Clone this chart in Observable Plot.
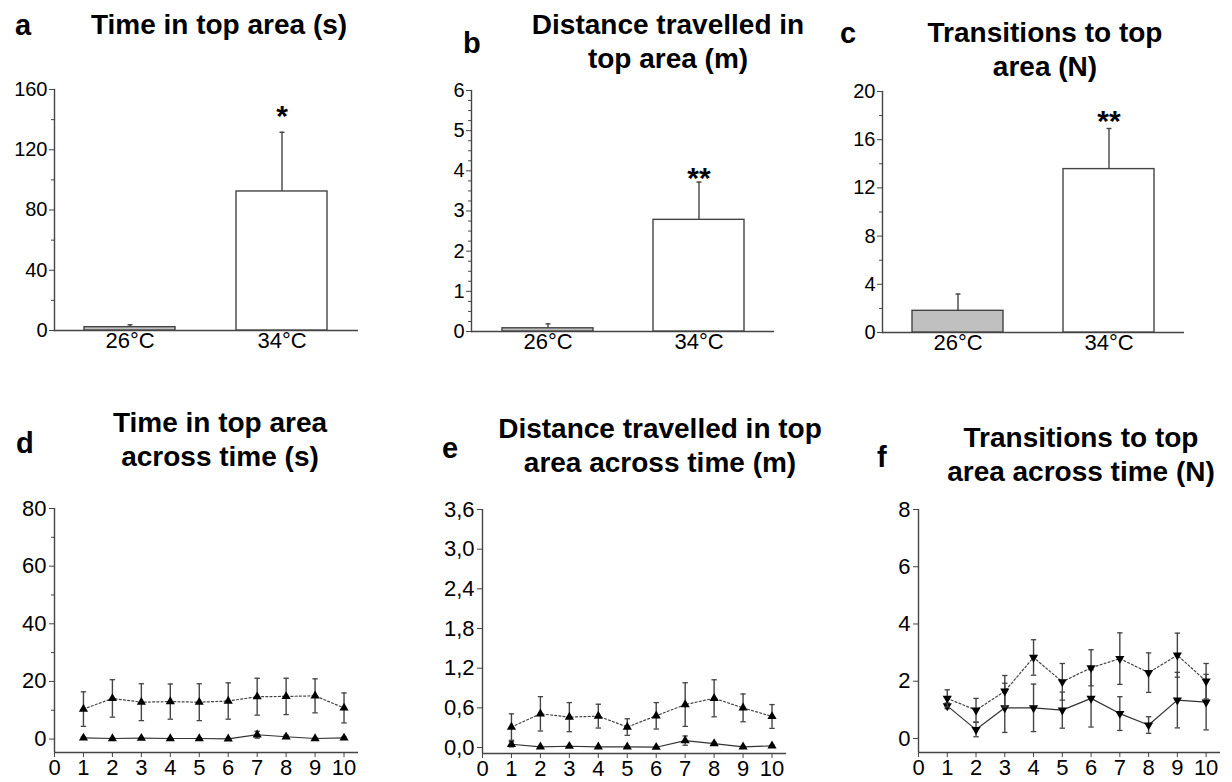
<!DOCTYPE html>
<html><head><meta charset="utf-8">
<script src="https://cdn.jsdelivr.net/npm/d3@7"></script>
<script src="https://cdn.jsdelivr.net/npm/@observablehq/plot@0.6"></script>
<style>
body{margin:0;background:#fff;}
#fig{position:relative;width:1232px;height:782px;font-family:"Liberation Sans",Arial,sans-serif;color:#000;overflow:hidden;background:#fff}
.panel{position:absolute}
.title{position:absolute;width:440px;text-align:center;font-weight:bold;font-size:28px;line-height:34px;white-space:nowrap}
.letter{position:absolute;font-weight:bold;font-size:29px;line-height:34px}
</style></head><body><div id="fig"></div>
<script>
// ---------- data ----------
const temperatures = ["26°C", "34°C"];
const timeTopMean = [2.2, 92.3];
const timeTopSE = [1.6, 39.3];
const distTopMean = [0.08, 2.78];
const distTopSE = [0.11, 0.94];
const transTopMean = [1.8, 13.56];
const transTopSE = [1.39, 3.37];
const significance = ["", "*"];
const significanceB = ["", "**"];
const significanceC = ["", "**"];

const minutes = [1, 2, 3, 4, 5, 6, 7, 8, 9, 10];
const time26 = [0.4, 0.2, 0.3, 0.2, 0.2, 0.1, 1.5, 0.8, 0.2, 0.4];
const time26SE = [0.3, 0.2, 0.3, 0.2, 0.2, 0.1, 1.2, 0.5, 0.2, 0.3];
const time34 = [10.4, 14.1, 12.8, 13.0, 12.8, 13.2, 14.7, 14.8, 15.0, 10.8];
const time34SE = [6.0, 6.5, 6.4, 6.1, 6.4, 6.3, 6.4, 6.3, 5.9, 5.2];
const dist26 = [0.05, 0.01, 0.02, 0.01, 0.01, 0.005, 0.105, 0.06, 0.01, 0.025];
const dist26SE = [0.04, 0.01, 0.01, 0.01, 0.01, 0.005, 0.07, 0.02, 0.01, 0.01];
const dist34 = [0.31, 0.51, 0.46, 0.475, 0.31, 0.48, 0.65, 0.745, 0.6, 0.47];
const dist34SE = [0.2, 0.26, 0.22, 0.18, 0.125, 0.2, 0.33, 0.28, 0.21, 0.18];
const trans26 = [1.14, 0.31, 1.07, 1.07, 0.99, 1.40, 0.87, 0.47, 1.34, 1.27];
const trans26SE = [0.1, 0.25, 0.86, 0.83, 0.63, 1.0, 0.59, 0.29, 0.97, 0.97];
const trans34 = [1.40, 0.99, 1.65, 2.83, 1.98, 2.47, 2.79, 2.30, 2.91, 2.0];
const trans34SE = [0.3, 0.41, 0.55, 0.62, 0.64, 0.63, 0.9, 0.69, 0.77, 0.62];

// tick labels
const ticksA = [0, 40, 80, 120, 160], minorA = [20, 60, 100, 140];
const ticksB = [0, 1, 2, 3, 4, 5, 6], minorB = [0.25,0.5,0.75,1.25,1.5,1.75,2.25,2.5,2.75,3.25,3.5,3.75,4.25,4.5,4.75,5.25,5.5,5.75];
const ticksC = [0, 4, 8, 12, 16, 20], minorC = [2, 6, 10, 14, 18];
const ticksD = [0, 20, 40, 60, 80], minorD = [10, 30, 50, 70];
const ticksE = [0, 0.6, 1.2, 1.8, 2.4, 3.0, 3.6];
const ticksF = [0, 2, 4, 6, 8];
const ticksMinute = [0, 1, 2, 3, 4, 5, 6, 7, 8, 9, 10];

// ---------- styling ----------
const FONT = '"Liberation Sans", Arial, sans-serif';
const AXIS = "#444";
const barFill = {"26°C": "#c0c0c0", "34°C": "#ffffff"};
const capSymbol = {draw(ctx, size) { const r = Math.sqrt(size / Math.PI); ctx.moveTo(-r, 0); ctx.lineTo(r, 0); }};
const fig = document.getElementById("fig");

function addText(cls, lines, x, baseline, center) {
  const div = document.createElement("div");
  div.className = cls;
  div.innerHTML = lines.join("<br>");
  const off = cls === "title" ? 26.7 : 27.0;
  div.style.top = (baseline - off) + "px";
  div.style.left = (center ? x - 220 : x) + "px";
  fig.appendChild(div);
}

function place(svg, left, top) {
  const wrap = document.createElement("div");
  wrap.className = "panel";
  wrap.style.left = left + "px";
  wrap.style.top = top + "px";
  wrap.appendChild(svg);
  fig.appendChild(wrap);
}

function barPanel(cfg) {
  const data = temperatures.map((t, i) => ({t, mean: cfg.mean[i], se: cfg.se[i], sig: cfg.sig[i]}));
  const svg = Plot.plot({
    width: cfg.width, height: cfg.height,
    marginLeft: cfg.m[0], marginRight: cfg.m[1], marginTop: cfg.m[2], marginBottom: cfg.m[3],
    style: {fontFamily: FONT, fontSize: "20px", background: "transparent", color: "#000", overflow: "visible"},
    x: {domain: temperatures, paddingInner: 0.4, paddingOuter: 0.2, label: null},
    y: {domain: cfg.yDomain, label: null},
    color: {type: "identity"},
    marks: [
      Plot.frame({anchor: "left", stroke: AXIS, strokeWidth: 1.4}),
      Plot.ruleY([cfg.yDomain[0]], {stroke: AXIS, strokeWidth: 1.4}),
      Plot.axisY(cfg.ticks, {tickSize: 5, tickPadding: 2, fontSize: 20, stroke: AXIS, fill: "#000", label: null}),
      Plot.axisY(cfg.minor, {tickSize: 3, tickFormat: () => "", stroke: AXIS, label: null}),
      Plot.axisX({tickSize: 0, tickPadding: 2, fontSize: 22, fill: "#000", label: null}),
      Plot.ruleX(data, {x: "t", y1: "mean", y2: d => d.mean + d.se, stroke: AXIS, strokeWidth: 1.4}),
      Plot.dot(data, {x: "t", y: d => d.mean + d.se, symbol: capSymbol, r: 2.5, stroke: AXIS, strokeWidth: 1.4}),
      Plot.barY(data, {x: "t", y: "mean", fill: d => barFill[d.t], stroke: AXIS, strokeWidth: 1.4}),
      Plot.text(data, {x: "t", y: () => cfg.sigY, text: "sig", fontSize: 30, fontWeight: "bold", dy: 8, fill: "#000"})
    ]
  });
  place(svg, cfg.left, cfg.top);
}

function linePanel(cfg) {
  const mk = (vals, ses) => minutes.map((m, i) => ({m, v: vals[i], se: ses[i]}));
  const series = [
    {data: mk(cfg.s26, cfg.s26SE), dash: null},
    {data: mk(cfg.s34, cfg.s34SE), dash: "2,2.2"}
  ];
  const marks = [
    Plot.ruleX([0], {stroke: AXIS, strokeWidth: 1.4}),
    Plot.ruleY([cfg.yDomain[0]], {stroke: AXIS, strokeWidth: 1.4}),
    Plot.axisY(cfg.ticks, {tickSize: 5, tickPadding: 3, fontSize: 22, stroke: AXIS, fill: "#000", label: null, tickFormat: cfg.fmt}),
    Plot.axisX(ticksMinute, {tickSize: 5, tickPadding: 2, fontSize: 22, stroke: AXIS, fill: "#000", label: null})
  ];
  if (cfg.minor) marks.push(Plot.axisY(cfg.minor, {tickSize: 3, tickFormat: () => "", stroke: AXIS, label: null}));
  for (const s of series) {
    marks.push(Plot.line(s.data, {x: "m", y: "v", stroke: s.dash ? "#444" : "#333", strokeWidth: 1.2, strokeDasharray: s.dash}));
  }
  for (const s of series) {
    marks.push(
      Plot.ruleX(s.data, {x: "m", y1: d => d.v - d.se, y2: d => d.v + d.se, stroke: AXIS, strokeWidth: 1.4}),
      Plot.dot(s.data, {x: "m", y: d => d.v + d.se, symbol: capSymbol, r: 2.7, stroke: AXIS, strokeWidth: 1.3}),
      Plot.dot(s.data, {x: "m", y: d => d.v - d.se, symbol: capSymbol, r: 2.7, stroke: AXIS, strokeWidth: 1.3}),
      Plot.dot(s.data, {x: "m", y: "v", symbol: "triangle", r: 3.4, fill: "#000", stroke: "none", rotate: cfg.rotate})
    );
  }
  const svg = Plot.plot({
    width: cfg.width, height: cfg.height,
    marginLeft: cfg.m[0], marginRight: cfg.m[1], marginTop: cfg.m[2], marginBottom: cfg.m[3],
    style: {fontFamily: FONT, fontSize: "22px", background: "transparent", color: "#000", overflow: "visible"},
    x: {domain: [0, 10.5], label: null},
    y: {domain: cfg.yDomain, label: null},
    marks
  });
  place(svg, cfg.left, cfg.top);
}

// ---------- panels ----------
barPanel({left: 0, top: 70, width: 370, height: 300, m: [54, 12, 19, 40],
  mean: timeTopMean, se: timeTopSE, sig: significance, sigY: 147.4, yDomain: [0, 160], ticks: ticksA, minor: minorA});
barPanel({left: 410, top: 70, width: 375, height: 300, m: [61, 11, 20, 39],
  mean: distTopMean, se: distTopSE, sig: significanceB, sigY: 4.0, yDomain: [0, 6], ticks: ticksB, minor: minorB});
barPanel({left: 830, top: 70, width: 380, height: 300, m: [52, 26, 21, 38],
  mean: transTopMean, se: transTopSE, sig: significanceC, sigY: 18.2, yDomain: [0, 20], ticks: ticksC, minor: minorC});

linePanel({left: 0, top: 490, width: 370, height: 292, m: [54, 12, 18, 30],
  s26: time26, s26SE: time26SE, s34: time34, s34SE: time34SE, yDomain: [-4.66, 80], ticks: ticksD, minor: minorD, rotate: 0});
linePanel({left: 410, top: 490, width: 380, height: 292, m: [72, 4, 19, 29],
  s26: dist26, s26SE: dist26SE, s34: dist34, s34SE: dist34SE, yDomain: [-0.09, 3.6], ticks: ticksE,
  fmt: d => d.toFixed(1).replace(".", ","), rotate: 0});
linePanel({left: 830, top: 490, width: 400, height: 292, m: [88, 10, 19, 30],
  s26: trans26, s26SE: trans26SE, s34: trans34, s34SE: trans34SE, yDomain: [-0.49, 8], ticks: ticksF, rotate: 180});

// ---------- titles and panel letters ----------
addText("letter", ["a"], 15, 35);
addText("title", ["Time in top area (s)"], 219, 35, true);
addText("letter", ["b"], 463, 53);
addText("title", ["Distance travelled in", "top area (m)"], 668, 35, true);
addText("letter", ["c"], 840, 43);
addText("title", ["Transitions to top", "area (N)"], 1045, 43, true);
addText("letter", ["d"], 16, 453);
addText("title", ["Time in top area", "across time (s)"], 220, 433, true);
addText("letter", ["e"], 442, 458);
addText("title", ["Distance travelled in top", "area across time (m)"], 660, 439, true);
addText("letter", ["f"], 877, 467);
addText("title", ["Transitions to top", "area across time (N)"], 1081, 448, true);
</script></body></html>
